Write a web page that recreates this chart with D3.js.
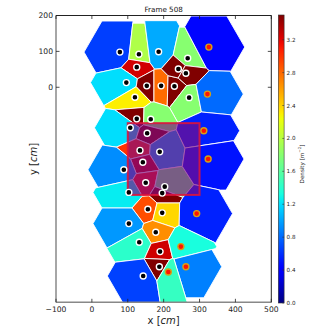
<!DOCTYPE html>
<html><head><meta charset="utf-8">
<script src="https://cdn.jsdelivr.net/npm/d3@7"></script>
<style>body{margin:0;background:#fff}svg{display:block}text{font-family:"DejaVu Sans",sans-serif}</style>
</head><body><svg id="c" width="332" height="332"></svg>
<script>
// ---- data (cm) ----
const title = "Frame 508";
const xTicks = [-100, 0, 100, 200, 300, 400, 500];
const yTicks = [0, 100, 200];
const cbTicks = [0.0, 0.4, 0.8, 1.2, 1.6, 2.0, 2.4, 2.8, 3.2];
const pedX = [78, 131, 186, 125, 96, 153, 193, 230, 120, 267, 241, 262, 271, 125, 164, 107, 154, 134, 189, 142, 89, 150, 203, 103, 196, 156, 196, 103, 178, 132, 190, 188, 143,
              326, 322, 312, 324, 292, 248, 262, 213];
const pedY = [98, 92, 99, 56, 13, 4, 4, 3, -28, 81, 51, 39, -29, -88, -89, -113, -128, -176, -180, -209, -230, -266, -277, -293, -295, -340, -350, -380, -404, -432, -458, -500, -526,
              112, -19, -121, -200, -352, -444, -500, -515];
const pedGroup = ["b","b","b","b","b","b","b","b","b","b","b","b","b","b","b","b","b","b","b","b","b","b","b","b","b","b","b","b","b","b","b","b","b",
                  "r","r","r","r","r","r","r","r"];
const density = [0.65, 1.97, 1.02, 3.25, 1.2, 3.5, 2.79, 3.5, 2.3, 1.8, 3.5, 3.5, 1.8, 3.5, 1.8, 1.2, 3.5, 3.0, 1.0, 3.3, 0.92, 3.1, 1.7, 1.25, 3.5, 2.9, 2.39, 0.96, 2.66, 1.41, 3.26, 3.5, 0.66,
                 0.45, 0.8, 0.55, 0.5, 0.55, 1.33, 0.875, 1.45];
const cutRadius = 100;          // cm, hexagonal cut-off of each cell
const roi = {x0: 100, x1: 300, y0: -300, y1: -100};
const vmax = 3.5;

// ---- layout ----
const svg = d3.select("#c");
const L = 56, R = 271.3, T = 15.5, B = 302.3;
const pxPerCm = (R - L) / 600;
const x = d3.scaleLinear().domain([-100, 500]).range([L, R]);
const y = d3.scaleLinear().domain([200 - (B - T) / pxPerCm, 200]).range([B, T]);

function interp(pts, t) {
  for (let i = 1; i < pts.length; i++) {
    if (t <= pts[i][0]) { const a = pts[i-1], b = pts[i]; return a[1] + (b[1]-a[1]) * (t-a[0]) / (b[0]-a[0]); }
  }
  return pts[pts.length-1][1];
}
function jet(t) {
  t = Math.max(0, Math.min(1, t));
  const r = interp([[0,0],[0.35,0],[0.66,1],[0.89,1],[1,0.5]], t);
  const g = interp([[0,0],[0.125,0],[0.375,1],[0.64,1],[0.91,0],[1,0]], t);
  const b = interp([[0,0.5],[0.11,1],[0.34,1],[0.65,0],[1,0]], t);
  return d3.rgb(r*255, g*255, b*255).toString();
}

// clipping of convex polygon by convex CCW polygon (Sutherland-Hodgman)
function clipPoly(subject, clip) {
  let out = subject;
  for (let i = 0; i < clip.length; i++) {
    const a = clip[i], b = clip[(i+1) % clip.length];
    const inp = out; out = [];
    if (!inp.length) break;
    const side = p => (b[0]-a[0])*(p[1]-a[1]) - (b[1]-a[1])*(p[0]-a[0]);
    for (let j = 0; j < inp.length; j++) {
      const P = inp[j], Q = inp[(j+1) % inp.length];
      const sp = side(P), sq = side(Q);
      if (sp >= 0) out.push(P);
      if ((sp >= 0) !== (sq >= 0)) {
        const t = sp / (sp - sq);
        out.push([P[0] + t*(Q[0]-P[0]), P[1] + t*(Q[1]-P[1])]);
      }
    }
  }
  return out;
}

const pts = pedX.map((v, i) => [v, pedY[i]]);
const vor = d3.Delaunay.from(pts).voronoi([-2000, -2000, 2000, 2000]);

svg.append("defs").append("clipPath").attr("id", "pa")
  .append("rect").attr("x", L).attr("y", T).attr("width", R-L).attr("height", B-T);
const plot = svg.append("g").attr("clip-path", "url(#pa)");

pts.forEach((p, i) => {
  let cell = vor.cellPolygon(i).slice(0, -1);
  const hex = d3.range(6).map(k => [p[0] + cutRadius*Math.cos(k*Math.PI/3), p[1] + cutRadius*Math.sin(k*Math.PI/3)]);
  cell = clipPoly(cell, hex);
  plot.append("path")
    .attr("d", "M" + cell.map(q => x(q[0]) + "," + y(q[1])).join("L") + "Z")
    .attr("fill", jet(density[i] / vmax))
    .attr("stroke", "#fff").attr("stroke-width", 0.9).attr("stroke-linejoin", "round");
});

// region of interest
plot.append("rect")
  .attr("x", x(roi.x0)).attr("y", y(roi.y1))
  .attr("width", x(roi.x1) - x(roi.x0)).attr("height", y(roi.y0) - y(roi.y1))
  .attr("fill", "rgb(125,10,130)").attr("fill-opacity", 0.66)
  .attr("stroke", "crimson").attr("stroke-opacity", 0.9).attr("stroke-width", 2);

// pedestrians
plot.selectAll("circle.p").data(pts).join("circle")
  .attr("cx", d => x(d[0])).attr("cy", d => y(d[1])).attr("r", 3)
  .attr("fill", (d, i) => pedGroup[i] === "b" ? "#000" : "#ff1400")
  .attr("stroke", (d, i) => pedGroup[i] === "b" ? "#fff" : "#d4a017")
  .attr("stroke-width", 1.4);

// frame
svg.append("line").attr("x1", L).attr("x2", L).attr("y1", T).attr("y2", B).attr("stroke", "#888").attr("stroke-width", 1.5);
svg.append("line").attr("x1", L).attr("x2", R).attr("y1", B).attr("y2", B).attr("stroke", "#888").attr("stroke-width", 1.5);
svg.append("line").attr("x1", L).attr("x2", R).attr("y1", T).attr("y2", T).attr("stroke", "#222").attr("stroke-width", 1);
svg.append("line").attr("x1", R).attr("x2", R).attr("y1", T).attr("y2", B).attr("stroke", "#222").attr("stroke-width", 1);

// ticks
const tl = 3.5;
xTicks.forEach(v => {
  svg.append("line").attr("x1", x(v)).attr("x2", x(v)).attr("y1", B).attr("y2", B - tl).attr("stroke", "#222").attr("stroke-width", 0.8);
  svg.append("line").attr("x1", x(v)).attr("x2", x(v)).attr("y1", T).attr("y2", T + tl).attr("stroke", "#222").attr("stroke-width", 0.8);
  svg.append("text").attr("x", x(v)).attr("y", B + 9.5).attr("text-anchor", "middle").attr("font-size", 7.6).attr("fill", "#222")
    .text(v < 0 ? "\u2212" + Math.abs(v) : v);
});
yTicks.forEach(v => {
  svg.append("line").attr("x1", L).attr("x2", L + tl).attr("y1", y(v)).attr("y2", y(v)).attr("stroke", "#222").attr("stroke-width", 0.8);
  svg.append("line").attr("x1", R).attr("x2", R - tl).attr("y1", y(v)).attr("y2", y(v)).attr("stroke", "#222").attr("stroke-width", 0.8);
  svg.append("text").attr("x", L - 3).attr("y", y(v) + 2.8).attr("text-anchor", "end").attr("font-size", 7.6).attr("fill", "#222").text(v);
});

// titles
svg.append("text").attr("x", (L+R)/2).attr("y", 12).attr("text-anchor", "middle").attr("font-size", 7.2).attr("fill", "#111").text(title);
const xl = svg.append("text").attr("x", (L+R)/2).attr("y", 323.5).attr("text-anchor", "middle").attr("font-size", 10).attr("fill", "#222");
xl.append("tspan").text("x [");
xl.append("tspan").attr("font-style", "italic").text("cm");
xl.append("tspan").text("]");
const yl = svg.append("text").attr("transform", "translate(37," + ((T+B)/2) + ") rotate(-90)").attr("text-anchor", "middle").attr("font-size", 10).attr("fill", "#222");
yl.append("tspan").text("y [");
yl.append("tspan").attr("font-style", "italic").text("cm");
yl.append("tspan").text("]");

// colorbar
const cbX = 278.3, cbW = 5.8, cbT = 15, cbB = 303;
const cy = d3.scaleLinear().domain([0, vmax]).range([cbB, cbT]);
const grad = svg.select("defs").append("linearGradient").attr("id", "jet").attr("x1", 0).attr("x2", 0).attr("y1", 1).attr("y2", 0);
d3.range(0, 1.0001, 0.02).forEach(t => grad.append("stop").attr("offset", t).attr("stop-color", jet(t)));
svg.append("rect").attr("x", cbX).attr("y", cbT).attr("width", cbW).attr("height", cbB - cbT).attr("fill", "url(#jet)")
  .attr("stroke", "#333").attr("stroke-width", 0.6);
cbTicks.forEach(v => {
  svg.append("line").attr("x1", cbX + cbW).attr("x2", cbX + cbW - 1.8).attr("y1", cy(v)).attr("y2", cy(v)).attr("stroke", "#333").attr("stroke-width", 0.6);
  svg.append("text").attr("x", cbX + cbW + 2.5).attr("y", cy(v) + 2).attr("font-size", 5.6).attr("fill", "#222").text(v.toFixed(1));
});
const cl = svg.append("text").attr("transform", "translate(303.5," + 164 + ") rotate(-90)").attr("text-anchor", "middle").attr("font-size", 5.6).attr("fill", "#222");
cl.append("tspan").text("Density [");
cl.append("tspan").attr("font-style", "italic").text("m");
cl.append("tspan").attr("font-size", 4).attr("dy", -2.2).text("\u22122");
cl.append("tspan").attr("dy", 2.2).text("]");
</script></body></html>
